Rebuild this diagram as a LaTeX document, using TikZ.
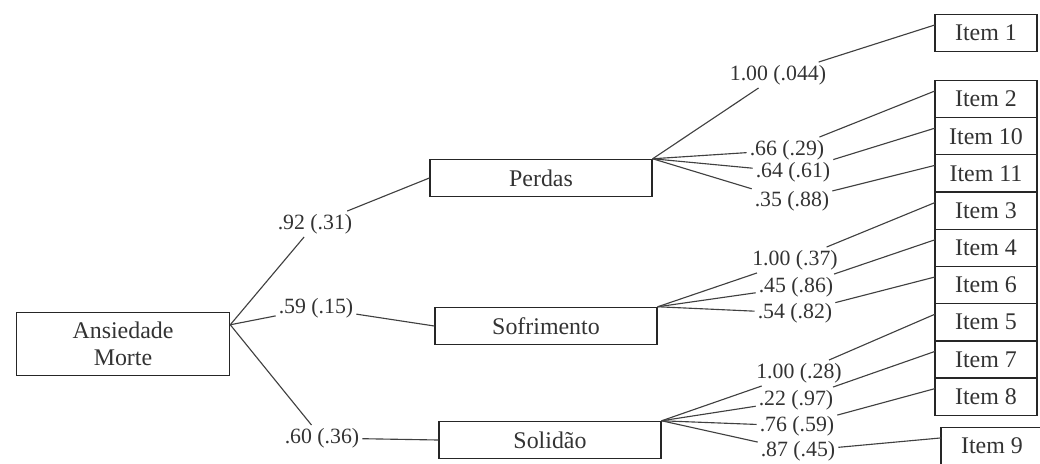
\documentclass[tikz,border=0pt]{standalone}
\usepackage{fontspec}
\setmainfont{Liberation Serif}
\usetikzlibrary{positioning,calc}

\begin{document}
\begin{tikzpicture}[
  x=0.025cm, y=-0.025cm,
  box/.style={draw, line width=0.9pt, black!85, text=black!80, inner sep=2pt, font=\fontsize{17}{19}\selectfont},
  fac/.style={box, minimum width=5.55cm, minimum height=0.93cm},
  item/.style={box, outer sep=0pt, minimum width=2.55cm, minimum height=0.93cm},
  wt/.style={inner sep=2pt, text=black!80, font=\fontsize{15.5}{17}\selectfont},
  ln/.style={line width=0.8pt, black!75}
]
  \useasboundingbox (0,0) rectangle (1040,463);

  % latent factors
  \node[box, minimum width=5.33cm, minimum height=1.58cm, align=center] (main) at (123,344) {Ansiedade\\Morte};
  \node[fac] (perdas) at (541,178) {Perdas};
  \node[fac] (sofrimento) at (546,326) {Sofrimento};
  \node[fac] (solidao) at (550,440) {Solid\~ao};
  \coordinate (mj) at ($(main.north east)+(0,13)$);

  % items
  \node[item] (item1) at (986,33) {Item 1};
  \node[item] (item2) at (986,99) {Item 2};
  \node[item, below=0pt of item2] (item10) {Item 10};
  \node[item, below=0pt of item10] (item11) {Item 11};
  \node[item, below=0pt of item11] (item3) {Item 3};
  \node[item, below=0pt of item3] (item4) {Item 4};
  \node[item, below=0pt of item4] (item6) {Item 6};
  \node[item, below=0pt of item6] (item5) {Item 5};
  \node[item, below=0pt of item5] (item7) {Item 7};
  \node[item, below=0pt of item7] (item8) {Item 8};
  \node[item] (item9) at (992,446) {Item 9};

  % loadings
  \node[wt] (wperdas) at (315,224) {.92 (.31)};
  \node[wt] (wsofr) at (316,308) {.59 (.15)};
  \node[wt] (wsolid) at (322,438) {.60 (.36)};
  \node[wt] (p1) at (778,75) {1.00 (.044)};
  \node[wt] (p2) at (787,150) {.66 (.29)};
  \node[wt] (p3) at (793,172) {.64 (.61)};
  \node[wt] (p4) at (792,201) {.35 (.88)};
  \node[wt] (s1) at (795,260) {1.00 (.37)};
  \node[wt] (s2) at (796,287) {.45 (.86)};
  \node[wt] (s3) at (795,313) {.54 (.82)};
  \node[wt] (o1) at (799,373) {1.00 (.28)};
  \node[wt] (o2) at (796,400) {.22 (.97)};
  \node[wt] (o3) at (797,426) {.76 (.59)};
  \node[wt] (o4) at (798,451) {.87 (.45)};

  \draw[ln] (mj) -- (wperdas) -- (perdas.west);
  \draw[ln] (mj) -- (wsofr) -- (sofrimento.west);
  \draw[ln] (mj) -- (wsolid) -- (solidao.west);

  \draw[ln] (perdas.north east) -- (p1) -- (item1.171);
  \draw[ln] (perdas.north east) -- (p2) -- (item2.171);
  \draw[ln] (perdas.north east) -- (p3) -- (item10.171);
  \draw[ln] (perdas.north east) -- (p4) -- (item11.171);
  \draw[ln] (sofrimento.north east) -- (s1) -- (item3.171);
  \draw[ln] (sofrimento.north east) -- (s2) -- (item4.171);
  \draw[ln] (sofrimento.north east) -- (s3) -- (item6.171);
  \draw[ln] (solidao.north east) -- (o1) -- (item5.171);
  \draw[ln] (solidao.north east) -- (o2) -- (item7.171);
  \draw[ln] (solidao.north east) -- (o3) -- (item8.171);
  \draw[ln] (solidao.north east) -- (o4) -- (item9.171);
\end{tikzpicture}
\end{document}
